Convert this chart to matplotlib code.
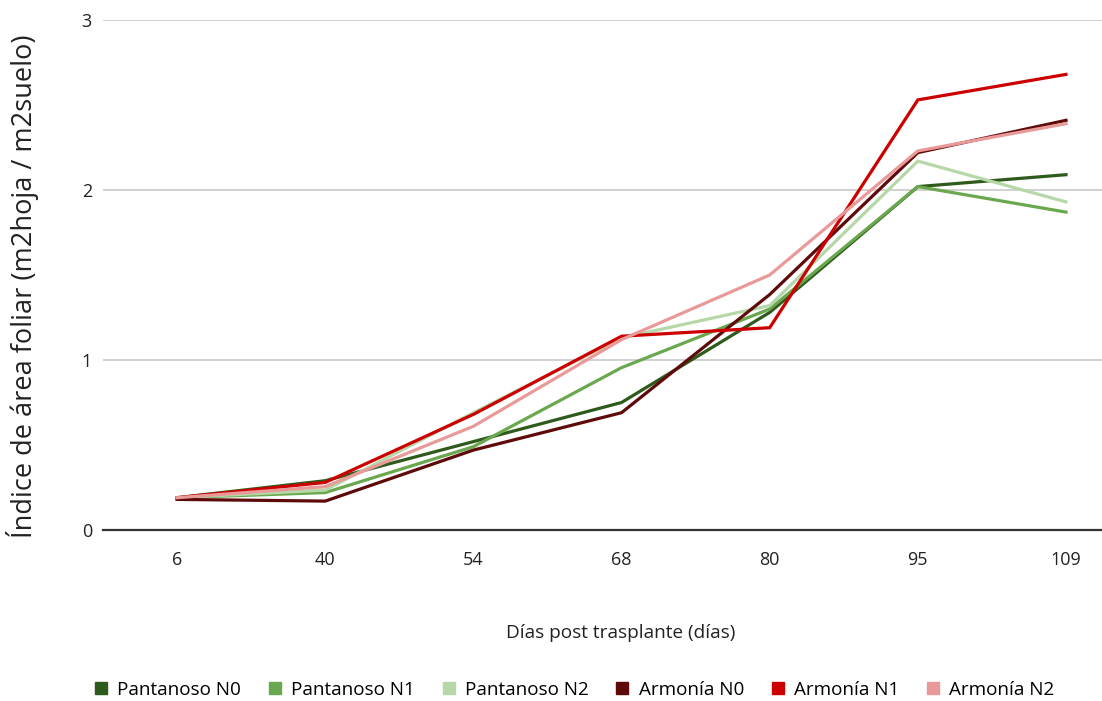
import matplotlib.pyplot as plt
from matplotlib.lines import Line2D

days = ["6", "40", "54", "68", "80", "95", "109"]

pantanoso_n0 = [0.19, 0.29, 0.52, 0.75, 1.28, 2.02, 2.09]
pantanoso_n1 = [0.19, 0.22, 0.49, 0.955, 1.30, 2.02, 1.87]
pantanoso_n2 = [0.19, 0.235, 0.69, 1.13, 1.32, 2.17, 1.93]
armonia_n0 = [0.18, 0.17, 0.47, 0.69, 1.385, 2.22, 2.41]
armonia_n1 = [0.19, 0.28, 0.68, 1.14, 1.19, 2.53, 2.68]
armonia_n2 = [0.19, 0.255, 0.61, 1.12, 1.50, 2.23, 2.39]

series_names = ["Pantanoso N0", "Pantanoso N1", "Pantanoso N2",
                "Armonía N0", "Armonía N1", "Armonía N2"]
series_values = [pantanoso_n0, pantanoso_n1, pantanoso_n2,
                 armonia_n0, armonia_n1, armonia_n2]
colors = ["#2e5a1c", "#6aa84f", "#b6d7a8", "#5e0a0a", "#cc0000", "#ea9999"]

plt.rcParams["font.family"] = ["Open Sans", "DejaVu Sans"]

fig = plt.figure(figsize=(11.02, 7.01), dpi=100)
ax = fig.add_axes([103 / 1102, 1 - 530 / 701, 1 - 103 / 1102, (530 - 20) / 701])

x = list(range(len(days)))
for name, vals, col in zip(series_names, series_values, colors):
    ax.plot(x, vals, color=col, lw=2.3, label=name, solid_joinstyle="miter")

ax.set_xlim(-0.5, 6.243)
ax.set_ylim(0, 3)
ax.set_yticks([0, 1, 2, 3])
ax.set_xticks(x)
ax.set_xticklabels(days)
ax.grid(axis="y", color="#c8c8c8", lw=1.2)
ax.set_axisbelow(True)
for side in ["top", "right", "left"]:
    ax.spines[side].set_visible(False)
ax.spines["bottom"].set_color("#333333")
ax.spines["bottom"].set_linewidth(1.6)
ax.tick_params(length=0, labelsize=13, colors="#222222")
ax.tick_params(axis="x", pad=15)
ax.tick_params(axis="y", pad=8)

# centred on the full category band, not on the cropped axes
fig.text(621 / 1102, 1 - 633 / 701, "Días post trasplante (días)",
         ha="center", va="center", fontsize=13.7, color="#222222")
fig.text(0.02, 1 - 286 / 701, "Índice de área foliar (m2hoja / m2suelo)",
         rotation=90, ha="center", va="center", fontsize=19.5, color="#222222")

handles = [Line2D([], [], marker="s", ls="none", color=c, markersize=8) for c in colors]
fig.legend(handles, series_names, loc="center", bbox_to_anchor=(573 / 1102, 1 - 690 / 701),
           ncol=6, frameon=False, fontsize=13.6, handletextpad=0.35, columnspacing=1.3,
           handlelength=1.0)

fig.savefig("out.png", dpi=100, facecolor="white")
